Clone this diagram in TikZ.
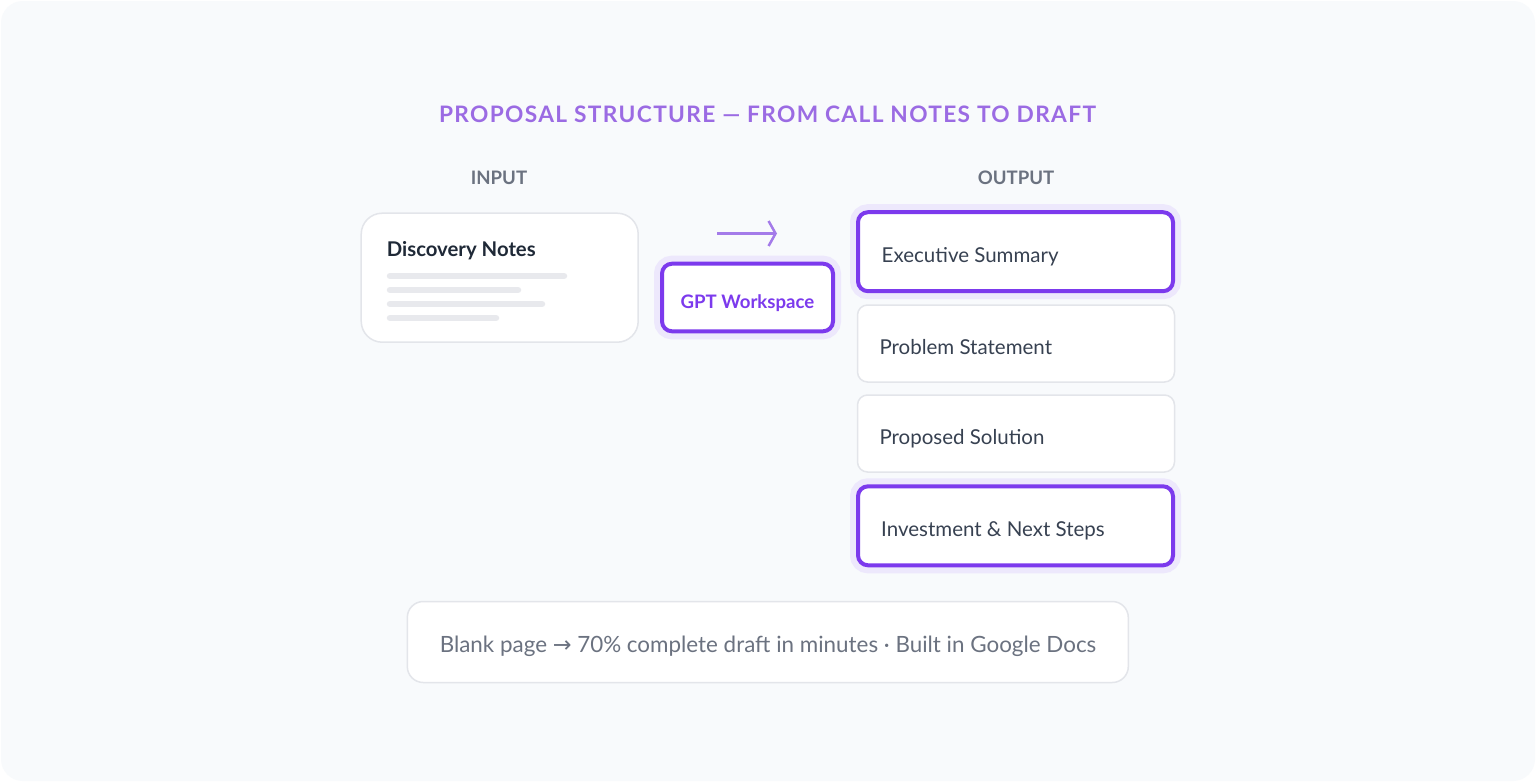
\documentclass[tikz,border=0pt]{standalone}
\usepackage{fontspec}
\setmainfont{Lato}
\newfontfamily\spacedfont{Lato}[LetterSpace=5.9]
\newfontfamily\symbolfont{DejaVu Sans}
\usetikzlibrary{arrows.meta}

\definecolor{pagebg}{HTML}{F8FAFC}
\definecolor{titlepurple}{HTML}{9B6BE3}
\definecolor{accent}{HTML}{7C3AED}
\definecolor{arrowpurple}{HTML}{A47BE9}
\definecolor{halo}{HTML}{EDE8FC}
\definecolor{cardline}{HTML}{E3E5EA}
\definecolor{stubline}{HTML}{E8E9ED}
\definecolor{labelgray}{HTML}{6B7280}
\definecolor{textdark}{HTML}{1F2937}
\definecolor{textmid}{HTML}{374151}

\tikzset{
  card/.style={draw=cardline, line width=1.5pt, fill=white, inner sep=0pt, outer sep=0pt},
  section/.style={card, rounded corners=10pt, minimum width=317pt, minimum height=77pt},
  picked/.style={section, draw=accent, line width=4pt, minimum width=315pt, minimum height=79pt,
    preaction={draw=halo, line width=16pt}},
  sectiontext/.style={anchor=base west, inner sep=0pt, text=textmid, font=\fontsize{20.5}{24}\selectfont},
  heading/.style={inner sep=0pt, text=labelgray, font=\bfseries\fontsize{18.6}{22}\selectfont},
  stub/.style={draw=stubline, line width=6.5pt, line cap=round},
  flow/.style={draw=arrowpurple, line width=2.5pt, -{Straight Barb[length=7pt, width=25pt]}}
}

\begin{document}
\begin{tikzpicture}[x=1pt, y=-1pt]
    \useasboundingbox (0,0) rectangle (1536,782);
    \fill[white] (0,0) rectangle (1536,782);
    \fill[pagebg, rounded corners=22pt] (1,1) rectangle (1535,781);

    \node[anchor=base, inner sep=0pt, text=titlepurple, font=\spacedfont\bfseries\fontsize{22.7}{26}\selectfont] (title) at (767.5,122) {PROPOSAL STRUCTURE — FROM CALL NOTES TO DRAFT};
    \node[heading, anchor=base] (inputlabel) at (499,184) {INPUT};
    \node[heading, anchor=base] (outputlabel) at (1016,184) {OUTPUT};

    \node[card, rounded corners=21pt, minimum width=277pt, minimum height=129pt] (notes) at (499.7,277.7) {};
    \node[anchor=base west, inner sep=0pt, text=textdark, font=\bfseries\fontsize{20.3}{24}\selectfont] (notestitle) at (386.7,256) {Discovery Notes};
    \draw[stub] (390,276) -- (564,276);
    \draw[stub] (390,290) -- (518,290);
    \draw[stub] (390,304) -- (542,304);
    \draw[stub] (390,318) -- (496,318);

    \coordinate (flowstart) at (717,233.5);
    \coordinate (flowend) at (777,233.5);
    \draw[flow] (flowstart) -- (flowend);

    \node[picked, minimum width=171pt, minimum height=67.6pt] (gpt) at (747.5,297.5) {};
    \node[anchor=base, inner sep=0pt, text=accent, font=\bfseries\fontsize{18.6}{22}\selectfont] (gpttext) at (747.5,308.3) {GPT Workspace};

    \node[picked] (summary) at (1015.5,251.7) {};
    \node[sectiontext] (summarytext) at (881.5,262.7) {Executive Summary};
    \node[section] (problem) at (1016,343.5) {};
    \node[sectiontext] (problemtext) at (879.3,354.3) {Problem Statement};
    \node[section] (solution) at (1016,433.5) {};
    \node[sectiontext] (solutiontext) at (879.3,444) {Proposed Solution};
    \node[picked] (invest) at (1015.5,525.8) {};
    \node[sectiontext] (investtext) at (881,536.7) {Investment \& Next Steps};

    \node[card, rounded corners=16pt, minimum width=721pt, minimum height=81pt] (footer) at (767.8,642) {};
    \node[anchor=base, inner sep=0pt, text=labelgray, font=\fontsize{22.4}{26}\selectfont] (footertext) at (768,652.5) {Blank page {\symbolfont →} 70\% complete draft in minutes · Built in Google Docs};
\end{tikzpicture}
\end{document}
